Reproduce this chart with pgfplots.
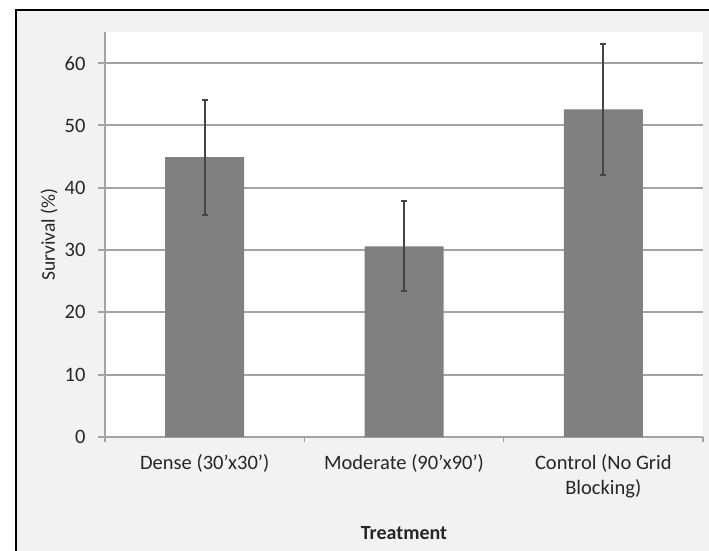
\documentclass[border=0pt]{standalone}
\usepackage{fontspec}
\setmainfont{Carlito}
\usepackage{pgfplots}
\pgfplotsset{compat=1.18}
\definecolor{bg}{HTML}{F2F2F2}
\definecolor{barc}{HTML}{808080}
\definecolor{gridc}{HTML}{A3A3A3}
\definecolor{errc}{HTML}{454545}
\definecolor{txt}{HTML}{262626}
\begin{document}
\begin{tikzpicture}[x=1pt,y=1pt]
\useasboundingbox (0,0) rectangle (709,550);
\fill[white] (0,0) rectangle (709,550);
\draw[fill=bg, line width=2.5pt, draw=black] (16,-10) rectangle (725,540);
\begin{axis}[
  at={(105pt,113pt)}, anchor=south west,
  scale only axis, width=598pt, height=405pt,
  xmin=-0.5, xmax=2.5, ymin=0, ymax=65,
  axis background/.style={fill=white},
  axis x line*=bottom, axis y line*=left,
  axis line style={gridc, line width=2pt, -},
  ytick={0,10,20,30,40,50,60},
  ymajorgrids, major grid style={gridc, line width=2pt},
  xtick={0,1,2},
  xticklabels={{Dense (30'x30')},{Moderate (90'x90')},{Control (No Grid\\Blocking)}},
  x tick style={draw=none},
  extra x ticks={-0.5,0.5,1.5,2.5},
  extra x tick labels={},
  extra x tick style={x tick style={draw=gridc, line width=1.5pt}, major tick length=5pt, tick align=outside, grid=none},
  y tick style={gridc, line width=2pt},
  major tick length=7pt, tick align=outside,
  tick label style={font=\fontsize{20.5}{25}\selectfont, text=txt},
  /pgf/number format/assume math mode=true,
  yticklabel style={xshift=-9pt},
  xticklabel style={align=center, yshift=-7pt},
  ylabel={Survival (\%)},
  ylabel style={at={(axis description cs:-0.0936,0.5)}, anchor=center, font=\fontsize{19.5}{23}\selectfont, text=txt},
  xlabel={Treatment},
  xlabel style={at={(axis description cs:0.5,-0.2543)}, anchor=base, font=\fontsize{20}{23}\selectfont\bfseries, text=txt},
  clip=false,
]
\addplot[ybar, bar width=79pt, fill=barc, draw=none,
  error bars/.cd, y dir=both, y explicit,
  error bar style={errc, line width=2pt},
  error mark options={errc, rotate=90, mark size=3pt, line width=2pt}]
  coordinates {
    (0,44.9) +- (0,9.2)
    (1,30.6) +- (0,7.2)
    (2,52.6) +- (0,10.5)
  };
\end{axis}
\end{tikzpicture}
\end{document}
